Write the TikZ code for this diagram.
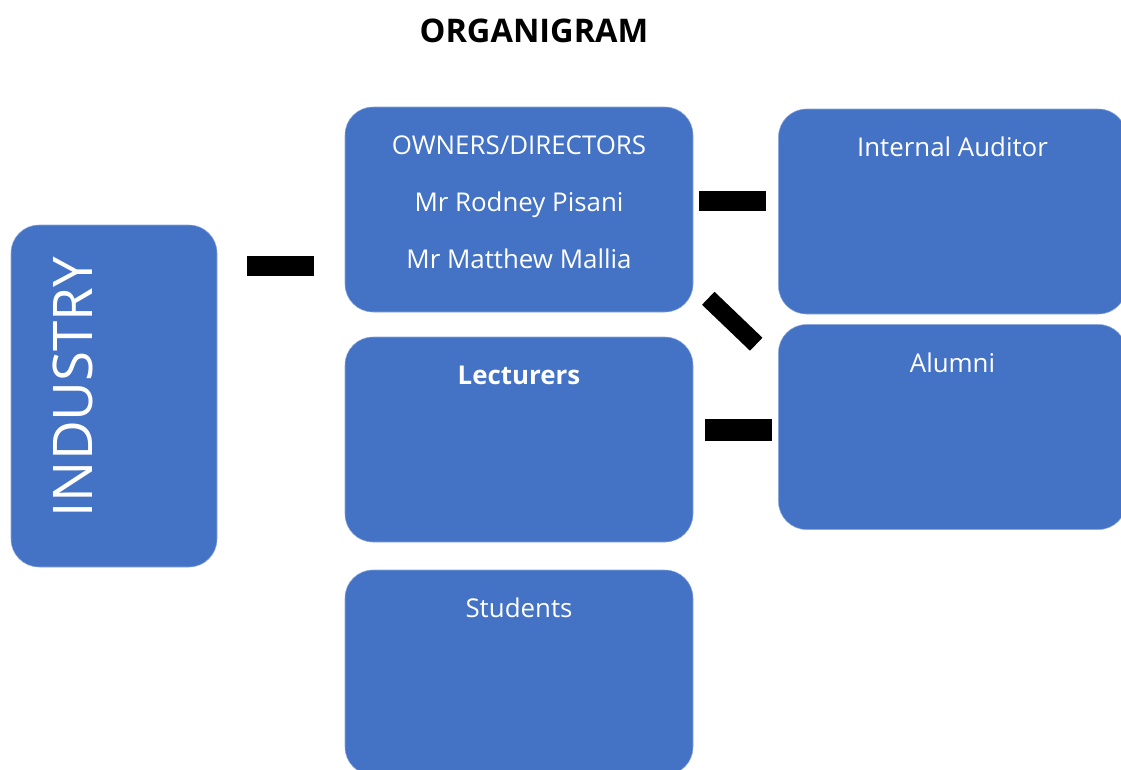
\documentclass[tikz,border=0pt]{standalone}
\usepackage{fontspec}
\setmainfont{Open Sans}
\usetikzlibrary{calc}
\definecolor{boxblue}{HTML}{4472C4}
\definecolor{boxedge}{HTML}{8CA8DC}

\begin{document}
\begin{tikzpicture}[x=0.75pt, y=-0.75pt,
    box/.style={fill=boxblue, draw=boxedge, line width=0.4pt, rounded corners=21pt,
                inner sep=0pt, minimum width=261pt, minimum height=153.75pt},
    txt/.style={text=white, anchor=base, inner sep=0pt, font=\fontsize{19.4}{22}\selectfont},
    bar/.style={black, line width=15pt}]
    \def \top {36pt};
    \def \gap {42.75pt};
    \useasboundingbox (0,0) rectangle (1121,769);
    \clip (0,0) rectangle (1121,769);

    \node[anchor=base, font=\bfseries\fontsize{24.4}{28}\selectfont] (title) at (534,42) {ORGANIGRAM};

    % boxes
    \node[box, minimum width=154.5pt, minimum height=256.5pt] (industry) at (114,396) {};
    \node[box] (owners) at (519,209.5) {};
    \node[box] (lecturers) at (519,439.5) {};
    \node[box] (students) at (519,672.5) {};
    \node[box] (auditor) at (952.5,211.5) {};
    \node[box] (alumni) at (952.5,427) {};

    % texts
    \node[txt, rotate=90, font=\fontsize{41}{46}\selectfont] (industry-t) at (92,387) {INDUSTRY};
    \foreach \t [count=\i from 0] in {OWNERS/DIRECTORS, Mr Rodney Pisani, Mr Matthew Mallia}
        \node[txt] (owners-\i) at ([yshift=-\top-\gap*\i]owners.north) {\t};
    \node[txt] (lecturers-t) at ([yshift=-\top]lecturers.north) {\bfseries Lecturers};
    \node[txt] (students-t) at ([yshift=-\top]students.north) {Students};
    \node[txt] (auditor-t) at ([yshift=-\top]auditor.north) {Internal Auditor};
    \node[txt] (alumni-t) at ([yshift=-\top]alumni.north) {Alumni};

    % links
    \draw[bar, shorten <=22.5pt, shorten >=23.25pt] (industry.east |- 0,265.5) -- (owners.west |- 0,265.5);
    \draw[bar, shorten <=4.5pt, shorten >=9pt] (owners.east |- 0,200.5) -- (auditor.west |- 0,200.5);
    \draw[bar, line width=13.5pt] ($(owners.south east)+(15,-14)$) -- ($(alumni.north west)+(-22,20)$);
    \draw[bar, line width=17pt, shorten <=9pt, shorten >=4.5pt] (lecturers.east |- 0,430) -- (alumni.west |- 0,430);
\end{tikzpicture}
\end{document}
